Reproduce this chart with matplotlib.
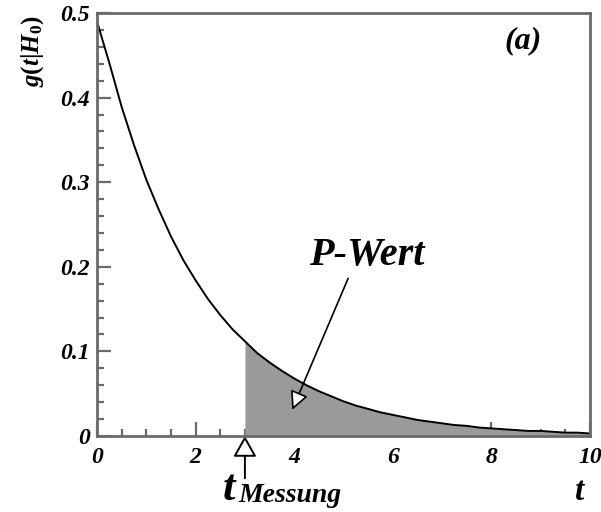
import numpy as np
from matplotlib import pyplot as plt

plt.rcParams['font.family'] = ['Liberation Serif', 'DejaVu Serif']
plt.rcParams['mathtext.fontset'] = 'custom'
plt.rcParams['mathtext.it'] = 'Liberation Serif:italic:bold'
plt.rcParams['mathtext.rm'] = 'Liberation Serif:bold'

# curve, t in steps of 0.25
t = np.arange(41) * 0.25
g = [0.490, 0.441, 0.389, 0.344, 0.303, 0.268, 0.236, 0.208, 0.184, 0.162,
     0.143, 0.126, 0.112, 0.098, 0.087, 0.077, 0.068, 0.060, 0.053, 0.047,
     0.041, 0.036, 0.032, 0.028, 0.025, 0.022, 0.019, 0.017, 0.015, 0.013,
     0.012, 0.010, 0.009, 0.008, 0.007, 0.006, 0.006, 0.005, 0.004, 0.004,
     0.003]
g = np.array(g)
t_mess = 3.0

xticks = [0, 2, 4, 6, 8, 10]
yticks = [0, 0.1, 0.2, 0.3, 0.4, 0.5]
yticklabels = ['0', '0.1', '0.2', '0.3', '0.4', '0.5']

fig = plt.figure(figsize=(6.01, 5.12), dpi=100)
ax = fig.add_axes([0.1614, 0.1484, 0.8203, 0.8262])

ax.fill_between(t, g, where=t >= t_mess, color='#9a9a9a', lw=0, zorder=1)
ax.plot(t, g, color='black', lw=1.4, zorder=2)

ax.set_xlim(0, 10)
ax.set_ylim(0, 0.5)
ax.set_axisbelow(True)

spine_col = '#6a6a6a'
for s in ax.spines.values():
    s.set_color(spine_col)
    s.set_linewidth(2.0)
    s.set_zorder(3)

ax.set_xticks(xticks)
ax.set_xticks(np.arange(0, 10.01, 0.5), minor=True)
ax.set_yticks(yticks)
ax.set_yticklabels(yticklabels)
ax.set_yticks(np.arange(0, 0.501, 0.02), minor=True)
ax.tick_params(which='both', direction='in', top=False, right=False,
               color=spine_col, width=1.6)
ax.tick_params(which='major', length=10)
ax.tick_params(which='minor', length=5)
ax.tick_params(axis='x', which='major', pad=8)
ax.tick_params(axis='y', which='major', pad=5)
for lab in ax.get_xticklabels() + ax.get_yticklabels():
    lab.set_fontsize(17)
    lab.set_fontweight('bold')
    lab.set_fontstyle('italic')

ax.text(0.865, 0.935, '(a)', transform=ax.transAxes, fontsize=23,
        fontweight='bold', fontstyle='italic', ha='center', va='center')

fig.text(0.055, 0.9, r'$g(t|H_0)$', rotation=90, fontsize=18,
         ha='center', va='center')

ax.annotate('P-Wert', xy=(3.96, 0.031), xytext=(5.48, 0.213),
            fontsize=29, fontweight='bold', fontstyle='italic',
            ha='center', va='center',
            arrowprops=dict(arrowstyle='-|>,head_length=0.8,head_width=0.4',
                            mutation_scale=14, relpos=(0.35, 0.0),
                            fc='white', ec='black', lw=1.2,
                            shrinkA=1, shrinkB=0))

ax.annotate('', xy=(t_mess, 0.0), xytext=(t_mess, -0.05),
            arrowprops=dict(arrowstyle='-|>,head_length=0.8,head_width=0.45',
                            mutation_scale=16,
                            fc='white', ec='black', lw=1.4,
                            shrinkA=0, shrinkB=0), annotation_clip=False)

fig.text(0.381, 0.045, 't', fontsize=32, fontweight='bold',
         fontstyle='italic', ha='center', va='center')
fig.text(0.396, 0.032, 'Messung', fontsize=20, fontweight='bold',
         fontstyle='italic', ha='left', va='center')
fig.text(0.965, 0.04, 't', fontsize=24, fontweight='bold',
         fontstyle='italic', ha='center', va='center')

fig.savefig('out.png', dpi=100)
